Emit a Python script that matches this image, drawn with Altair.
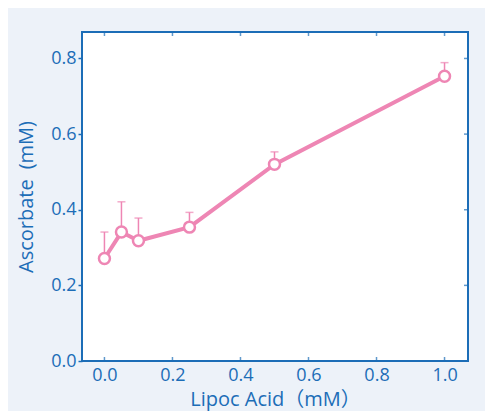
import altair as alt
import pandas as pd

lipoic = [0.0, 0.05, 0.1, 0.25, 0.5, 1.0]
ascorbate = [0.271, 0.341, 0.318, 0.354, 0.520, 0.753]
err_top = [0.341, 0.421, 0.378, 0.393, 0.553, 0.789]
x_ticks = [0.0, 0.2, 0.4, 0.6, 0.8, 1.0]
y_ticks = [0.0, 0.2, 0.4, 0.6, 0.8]

XMIN, XMAX = -0.066, 1.069
YMIN, YMAX = 0.0, 0.870

BLUE = "#1c6db7"
PINK = "#ee86b4"
FONT = "Open Sans, Noto Sans CJK JP"

df = pd.DataFrame({"x": lipoic, "y": ascorbate, "top": err_top})
dxt = pd.DataFrame({"t": x_ticks})
dyt = pd.DataFrame({"t": y_ticks[1:]})

xs = alt.Scale(domain=[XMIN, XMAX], nice=False, zero=False)
ys = alt.Scale(domain=[YMIN, YMAX], nice=False, zero=False)

xaxis = alt.Axis(values=x_ticks, format=".1f", title="Lipoc Acid（mM）",
                 ticks=False, domain=False, grid=False, labelPadding=5,
                 titlePadding=5)
yaxis = alt.Axis(values=y_ticks, format=".1f", title="Ascorbate\u2002(mM)",
                 tickSize=4, tickWidth=1.5, tickColor=BLUE, domain=False,
                 grid=False, labelPadding=2, titlePadding=14)

base = alt.Chart(df)

err = base.mark_rule(color=PINK, strokeWidth=1.5).encode(
    x=alt.X("x:Q", scale=xs, axis=xaxis),
    y=alt.Y("y:Q", scale=ys, axis=yaxis),
    y2="top:Q",
)
cap = base.mark_tick(color=PINK, orient="horizontal", size=8, thickness=1.5).encode(
    x=alt.X("x:Q", scale=xs, axis=xaxis),
    y=alt.Y("top:Q", scale=ys, axis=yaxis),
)
line = base.mark_line(color=PINK, strokeWidth=4).encode(
    x=alt.X("x:Q", scale=xs, axis=xaxis),
    y=alt.Y("y:Q", scale=ys, axis=yaxis),
)
pts = base.mark_point(shape="circle", filled=True, fill="white", stroke=PINK,
                      strokeWidth=2.5, size=120, opacity=1).encode(
    x=alt.X("x:Q", scale=xs, axis=xaxis),
    y=alt.Y("y:Q", scale=ys, axis=yaxis),
)

bot_ticks = alt.Chart(dxt).mark_tick(color=BLUE, orient="vertical", size=4,
                                     thickness=1.5, yOffset=-2).encode(
    x=alt.X("t:Q", scale=xs, axis=xaxis),
    y=alt.YDatum(YMIN, type="quantitative", scale=ys, axis=yaxis),
)
top_ticks = alt.Chart(dxt).mark_tick(color=BLUE, orient="vertical", size=4,
                                     thickness=1.5, yOffset=2).encode(
    x=alt.X("t:Q", scale=xs, axis=xaxis),
    y=alt.YDatum(YMAX, type="quantitative", scale=ys, axis=yaxis),
)
right_ticks = alt.Chart(dyt).mark_tick(color=BLUE, orient="horizontal", size=4,
                                       thickness=1.5, xOffset=-2).encode(
    x=alt.XDatum(XMAX, type="quantitative", scale=xs, axis=xaxis),
    y=alt.Y("t:Q", scale=ys, axis=yaxis),
)

chart = alt.layer(err, cap, line, pts, bot_ticks, top_ticks, right_ticks).properties(
    width=386,
    height=329,
    background="#edf2f9",
    padding={"left": 74, "top": 24, "right": 17, "bottom": 50},
    autosize=alt.AutoSizeParams(type="none"),
).configure_view(
    fill="white", stroke=BLUE, strokeWidth=2
).configure_axis(
    labelFont=FONT, labelFontSize=18, labelColor=BLUE,
    titleFont=FONT, titleFontSize=20, titleColor=BLUE, titleFontWeight="normal",
)

chart.save("out.html", embed_options={"renderer": "svg", "actions": False})
